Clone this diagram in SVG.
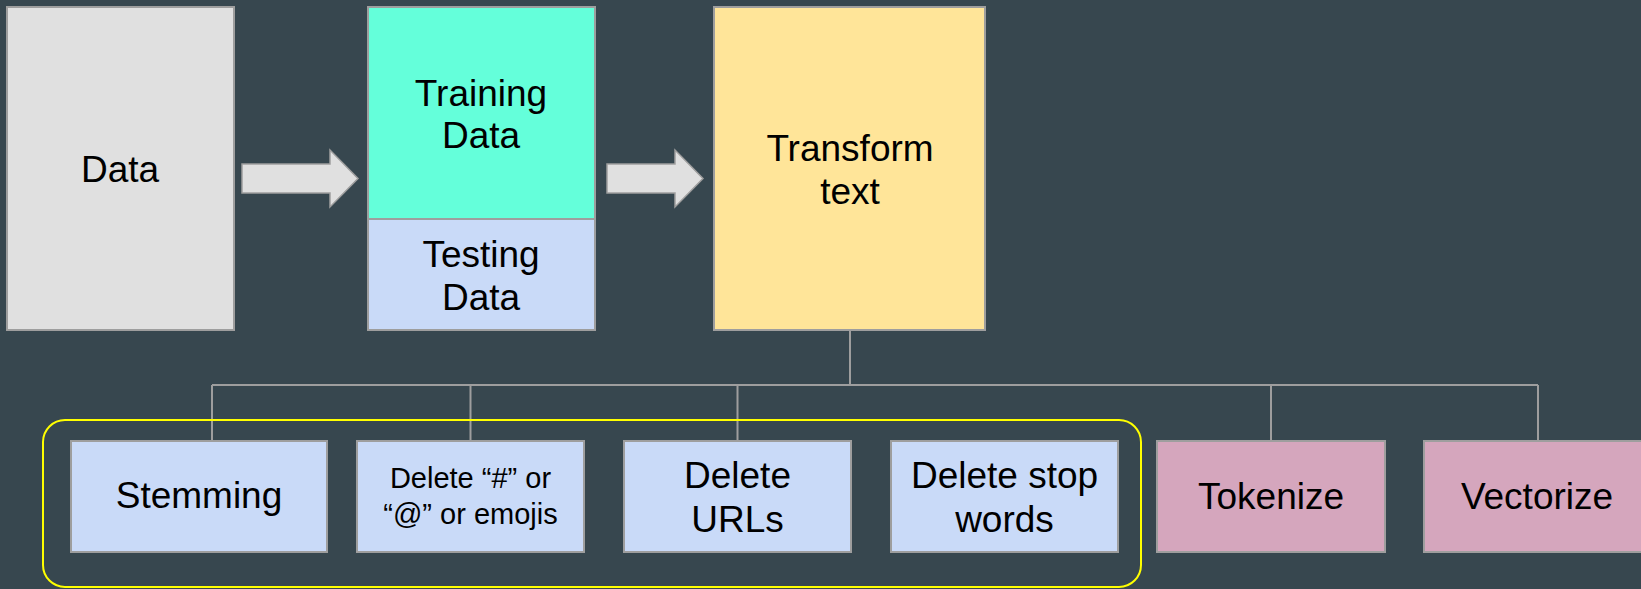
<svg xmlns="http://www.w3.org/2000/svg" width="1641" height="589" viewBox="0 0 1641 589">
<style>
.box{stroke:#9e9e9e;stroke-width:2}
.t{font-family:"Liberation Sans",Arial,sans-serif;font-size:37px;fill:#000;text-anchor:middle}
.s{font-size:29px}
.con{stroke:#9e9e9e;stroke-width:2;fill:none}
.arrow{fill:#e0e0e0;stroke:#9e9e9e;stroke-width:1.5}
</style>
<rect width="1641" height="589" fill="#37474f"/>
<g id="connectors">
<path class="arrow" d="M242,164 H330 V150 L358,178.5 L330,207 V193 H242 Z"/>
<path class="arrow" d="M607,164 H675 V150 L703,178.5 L675,207 V193 H607 Z"/>
<path class="con" d="M850,330 V385 M212,385 H1538 M212,385 V441 M470.5,385 V441 M737.5,385 V441 M1271,385 V441 M1538,385 V441"/>
</g>
<rect id="group-outline" x="43" y="420" width="1098" height="167" rx="22" fill="none" stroke="#ffff00" stroke-width="2"/>
<g id="data">
<rect class="box" x="7" y="7" width="227" height="323" fill="#e0e0e0"/>
<text class="t" x="120" y="182">Data</text>
</g>
<g id="training">
<rect class="box" x="368" y="7" width="227" height="212" fill="#64ffda"/>
<text class="t" x="481" y="106">Training</text>
<text class="t" x="481" y="148">Data</text>
</g>
<g id="testing">
<rect class="box" x="368" y="219" width="227" height="111" fill="#c9daf8"/>
<text class="t" x="481" y="267">Testing</text>
<text class="t" x="481" y="310">Data</text>
</g>
<g id="transform">
<rect class="box" x="714" y="7" width="271" height="323" fill="#ffe599"/>
<text class="t" x="850" y="161">Transform</text>
<text class="t" x="850" y="204">text</text>
</g>
<g id="stemming">
<rect class="box" x="71" y="441" width="256" height="111" fill="#c9daf8"/>
<text class="t" x="199" y="508">Stemming</text>
</g>
<g id="delete-hash">
<rect class="box" x="357" y="441" width="227" height="111" fill="#c9daf8"/>
<text class="t s" x="470.5" y="488">Delete “#” or</text>
<text class="t s" x="470.5" y="524">“@” or emojis</text>
</g>
<g id="delete-urls">
<rect class="box" x="624" y="441" width="227" height="111" fill="#c9daf8"/>
<text class="t" x="737.5" y="488">Delete</text>
<text class="t" x="737.5" y="532">URLs</text>
</g>
<g id="delete-stop">
<rect class="box" x="891" y="441" width="227" height="111" fill="#c9daf8"/>
<text class="t" x="1004.5" y="488">Delete stop</text>
<text class="t" x="1004.5" y="532">words</text>
</g>
<g id="tokenize">
<rect class="box" x="1157" y="441" width="228" height="111" fill="#d5a6bd"/>
<text class="t" x="1271" y="509">Tokenize</text>
</g>
<g id="vectorize">
<rect class="box" x="1424" y="441" width="218" height="111" fill="#d5a6bd"/>
<text class="t" x="1537" y="509">Vectorize</text>
</g>
</svg>
